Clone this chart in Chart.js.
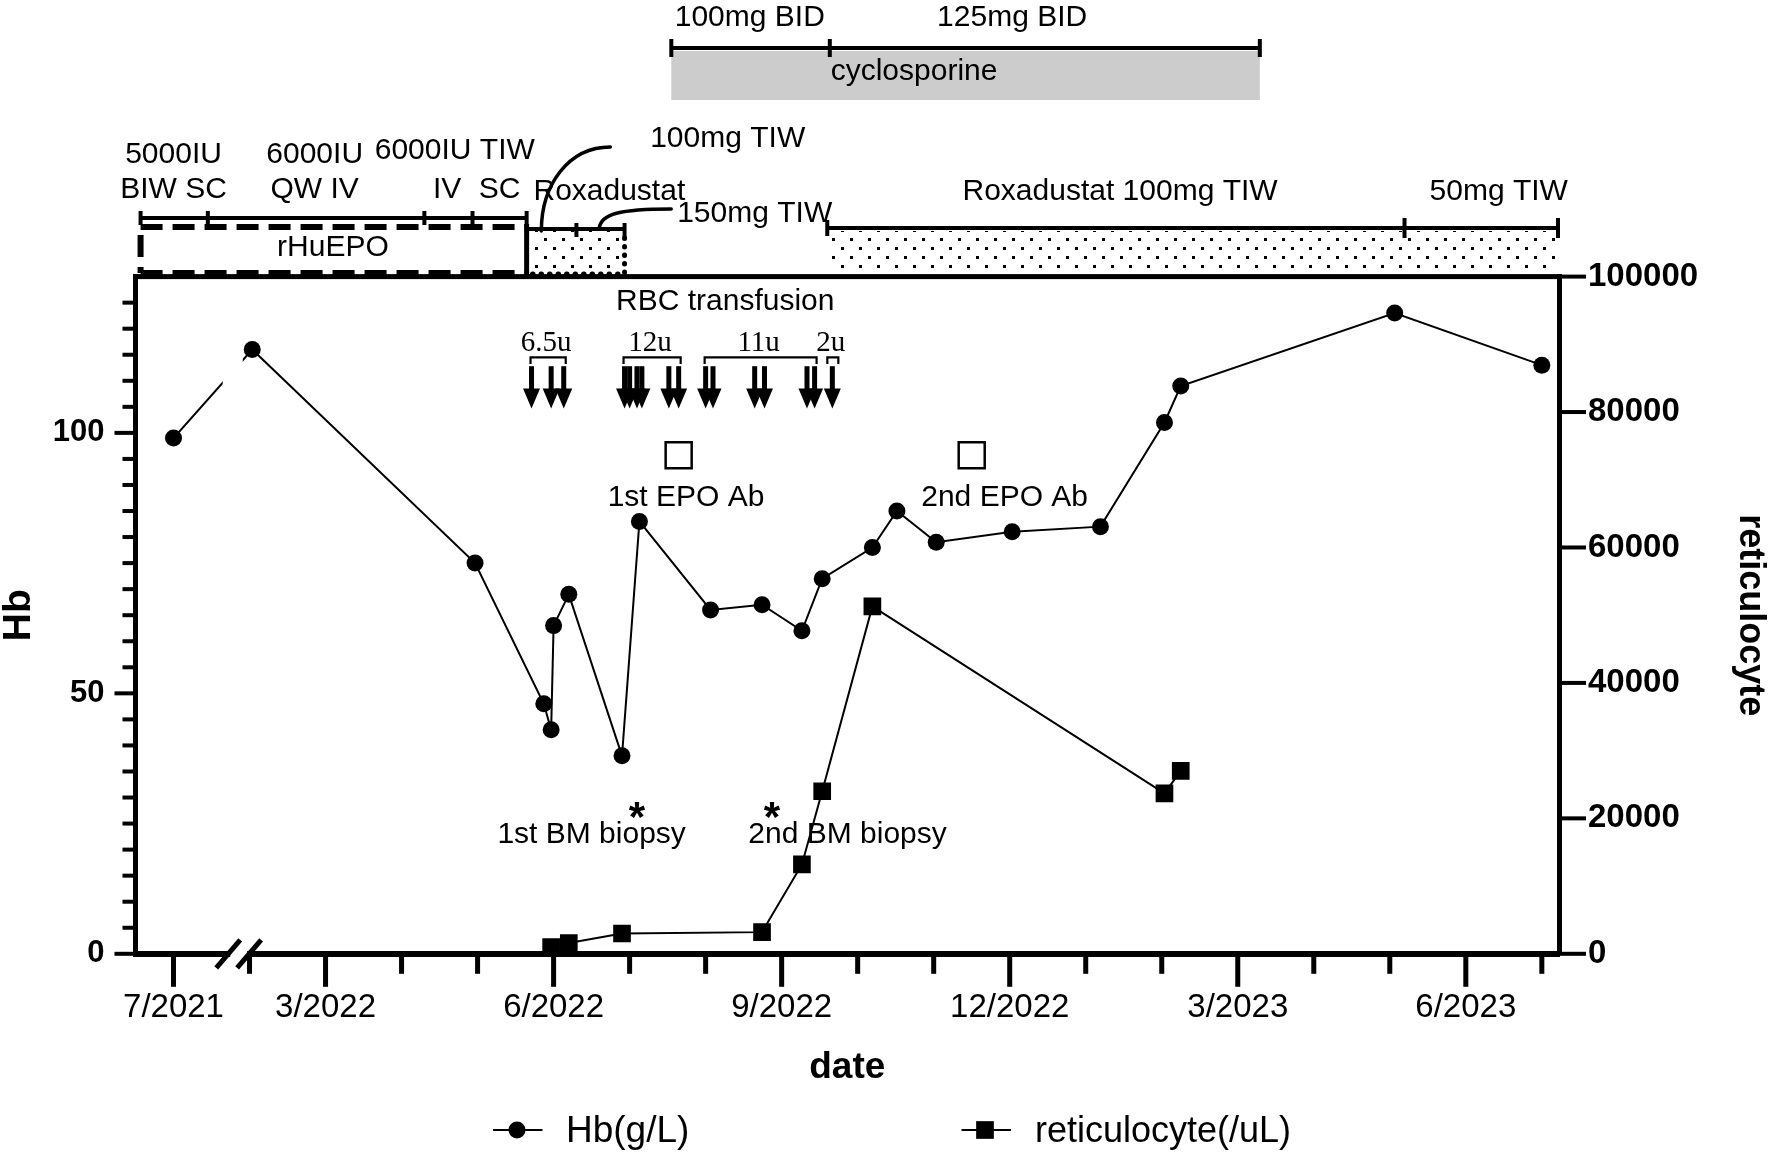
<!DOCTYPE html>
<html>
<head>
<meta charset="utf-8">
<script src="https://cdn.jsdelivr.net/npm/chart.js@4.4.1/dist/chart.umd.min.js"></script>
<style>
  html, body { margin: 0; padding: 0; background: #fff; }
  #wrap { width: 1770px; height: 1153px; }
</style>
</head>
<body>
<div id="wrap"><canvas id="c" width="1770" height="1153"></canvas></div>
<script>
// ================= DATA =================
const hbDates = ['2021-07-01','2022-02-02','2022-04-30','2022-05-28','2022-05-31','2022-06-01','2022-06-07',
  '2022-06-28','2022-07-05','2022-08-03','2022-08-24','2022-09-09','2022-09-17','2022-10-07','2022-10-17',
  '2022-11-02','2022-12-02','2023-01-07','2023-02-02','2023-02-08','2023-05-03','2023-07-01'];
const hbValues = [99,116,75,48,43,63,69,38,83,66,67,62,72,78,85,79,81,82,102,109,123,113];

const reticDates = ['2022-05-31','2022-06-07','2022-06-28','2022-08-24','2022-09-09','2022-09-17','2022-10-07','2023-02-02','2023-02-08'];
const reticValues = [1000,1600,3000,3200,13200,24000,51300,23700,27000];

const xTickDates = ['2021-07-01','2022-03-01','2022-06-01','2022-09-01','2022-12-01','2023-03-01','2023-06-01'];
const xTickLabels = ['7/2021','3/2022','6/2022','9/2022','12/2022','3/2023','6/2023'];
const xMinorTickDates = ['2022-02-01','2022-04-01','2022-05-01','2022-07-01','2022-08-01','2022-10-01','2022-11-01',
  '2023-01-01','2023-02-01','2023-04-01','2023-05-01','2023-07-01'];
const hbTickLabels = [0, 50, 100];
const reticTickLabels = [0, 20000, 40000, 60000, 80000, 100000];

const transfusionLabels = ['6.5u','12u','11u','2u'];
const transfusionDates = [
  ['2022-05-23','2022-05-31','2022-06-05'],
  ['2022-06-29','2022-07-01','2022-07-04','2022-07-06','2022-07-17','2022-07-21'],
  ['2022-08-01','2022-08-04','2022-08-21','2022-08-25','2022-09-11','2022-09-14'],
  ['2022-09-21']
];
const epoAbDates = ['2022-07-21','2022-11-16'];
const epoAbLabels = ['1st EPO Ab','2nd EPO Ab'];
const biopsyDates = ['2022-07-04','2022-08-28'];
const biopsyLabels = ['1st BM biopsy','2nd BM biopsy'];

const rhuepoDates = ['2021-06-18','2021-07-15','2022-04-10','2022-04-29','2022-05-21'];
const roxa1Dates = ['2022-05-21','2022-06-10','2022-06-29'];
const roxa2Dates = ['2022-09-19','2023-05-07','2023-07-08'];
const cycloDates = ['2022-07-18','2022-09-20','2023-03-10'];
const axisStartDate = '2021-06-16';
const axisEndDate = '2023-07-08';

// ================= HELPERS =================
// axis unit = months, with the Aug 2021 - Jan 2022 interval removed (axis break)
function toM(s) {
  const [yy, mo, d] = s.split('-').map(Number);
  const dim = new Date(yy, mo, 0).getDate();
  const frac = (d - 1) / dim;
  if (yy === 2021) return (mo - 7) + frac;
  return 1 + (yy - 2022) * 12 + (mo - 2) + frac;
}
const W = 1770, H = 1153;
const PLOT = { left: 135.5, right: 1559, top: 276.6, bottom: 953.8 };
const FONT = "'Liberation Sans', Arial, Helvetica, sans-serif";
const SERIF = "'Liberation Serif', 'Times New Roman', serif";
const HB_R = 8.5, RET_R = 12.5;
const EPO_LEVEL = 95.7;
const majorM = xTickDates.map(toM);
const allMonthTicks = xTickDates.concat(xMinorTickDates).map(toM).sort((a, b) => a - b);
const hbTicks = []; for (let v = 0; v <= 130; v += 5) hbTicks.push(v);
const isMajorM = v => majorM.some(m => Math.abs(m - v) < 1e-6);

Chart.defaults.font.family = FONT;
Chart.defaults.color = '#000';

// dot pattern for roxadustat boxes
const pc = document.createElement('canvas');
pc.width = 18; pc.height = 18;
const pcx = pc.getContext('2d');
pcx.fillStyle = '#000';
pcx.fillRect(0, 0, 3, 3);
pcx.fillRect(9, 9, 3, 3);

const annot = {
  id: 'annot',
  beforeDatasetDraw(chart, args) {
    if (args.index !== 0) return;
    const { ctx, chartArea: ca, scales: { x } } = chart;
    const p1 = chart.getDatasetMeta(0).data[1];
    const gx0 = x.getPixelForValue(0.70) - 4;
    const gx1 = p1.x - HB_R - 1;
    ctx.save();
    ctx.beginPath();
    ctx.rect(0, 0, chart.width, chart.height);
    ctx.rect(gx0, ca.top, gx1 - gx0, ca.bottom - ca.top);
    ctx.clip('evenodd');
  },
  afterDatasetDraw(chart, args) {
    if (args.index === 0) chart.ctx.restore();
  },
  afterDraw(chart) {
    const { ctx, chartArea: ca, scales: { x, y, y1 } } = chart;
    const X = d => x.getPixelForValue(typeof d === 'string' ? toM(d) : d);
    const Y = v => y.getPixelForValue(v);
    const txt = (s, xx, yy, font, align, base) => {
      ctx.font = font; ctx.textAlign = align || 'center'; ctx.textBaseline = base || 'middle';
      ctx.fillText(s, xx, yy);
    };
    const line = (x0, y0, x1, y1_, lw) => {
      ctx.lineWidth = lw; ctx.beginPath(); ctx.moveTo(x0, y0); ctx.lineTo(x1, y1_); ctx.stroke();
    };
    const F30 = '30px ' + FONT;
    ctx.save();
    ctx.fillStyle = '#000'; ctx.strokeStyle = '#000'; ctx.lineCap = 'butt';

    // frame top
    ctx.fillRect(ca.left - 2.5, ca.top - 2.5, ca.right - ca.left + 5, 5);
    // left ticks
    y.ticks.forEach(t => {
      if (t.value >= 130) return;
      const len = hbTickLabels.includes(t.value) ? 21 : 13;
      ctx.fillRect(ca.left - len, Y(t.value) - 2, len, 4);
    });
    // right ticks
    y1.ticks.forEach(t => { ctx.fillRect(ca.right, y1.getPixelForValue(t.value) - 2, 27, 4); });
    // bottom ticks
    x.ticks.forEach(t => {
      const len = isMajorM(t.value) ? 33 : 20;
      ctx.fillRect(x.getPixelForValue(t.value) - 2.5, ca.bottom, 5, len);
    });
    // axis break
    const b1 = X(0.72), b2 = X(0.995);
    ctx.fillStyle = '#fff';
    ctx.fillRect(b1 + 2, ca.bottom - 4, b2 - b1 - 4, 8);
    ctx.fillStyle = '#000';
    [b1, b2].forEach(bx => line(bx - 12, ca.bottom + 14, bx + 12, ca.bottom - 14, 5));

    // ---------- cyclosporine ----------
    const cx = cycloDates.map(X);
    ctx.fillStyle = '#cccccc';
    ctx.fillRect(cx[0], 51, cx[2] - cx[0], 49);
    ctx.fillStyle = '#000';
    line(cx[0], 48, cx[2], 48, 4);
    cx.forEach(v => line(v, 39, v, 57, 4));
    txt('100mg BID', X('2022-08-19'), 17.5, F30);
    txt('125mg BID', X('2022-12-02'), 17.5, F30);
    txt('cyclosporine', X('2022-10-24'), 71.5, F30);

    // ---------- rHuEPO ----------
    const rx = rhuepoDates.map(X);
    line(rx[0], 218, rx[4], 218, 4);
    rx.forEach(v => line(v, 211, v, 225, 4));
    ctx.setLineDash([22, 10]);
    ctx.lineWidth = 6;
    ctx.beginPath();
    ctx.moveTo(rx[0], 227); ctx.lineTo(rx[4], 227);
    ctx.moveTo(rx[0], 273); ctx.lineTo(rx[4], 273);
    ctx.moveTo(rx[0], 235); ctx.lineTo(rx[0], 273);
    ctx.stroke();
    ctx.setLineDash([]);
    txt('rHuEPO', X('2022-03-04'), 248, F30);
    txt('5000IU', X('2021-07-01'), 155, F30);
    txt('BIW SC', X('2021-07-01'), 190, F30);
    txt('6000IU', X('2022-02-25'), 155, F30);
    txt('QW IV', X('2022-02-25'), 190, F30);
    txt('6000IU TIW', X('2022-04-22'), 151, F30);
    txt('IV', X('2022-04-19'), 190, F30);
    txt('SC', X('2022-05-10'), 190, F30);

    // ---------- roxadustat ----------
    const pat = ctx.createPattern(pc, 'repeat');
    if (pat.setTransform) pat.setTransform(new DOMMatrix().translate(4, 4));
    const r1 = roxa1Dates.map(X);
    const r2 = roxa2Dates.map(X);
    ctx.fillStyle = pat;
    ctx.fillRect(r1[0], 231, r1[2] - r1[0], 43);
    ctx.fillRect(r2[0], 231, r2[2] - r2[0], 43);
    ctx.fillStyle = '#000';
    line(r1[0], 229, r1[2], 229, 4);
    line(r1[1], 223, r1[1], 237, 4);
    line(r1[2], 223, r1[2], 238, 4);
    line(r1[0], 224, r1[0], 276, 5);
    ctx.setLineDash([0.5, 8]); ctx.lineCap = 'round';
    ctx.lineWidth = 5;
    ctx.beginPath();
    ctx.moveTo(r1[2], 238); ctx.lineTo(r1[2], 274); ctx.lineTo(r1[0], 274);
    ctx.stroke();
    ctx.setLineDash([]); ctx.lineCap = 'butt';
    line(r2[0], 228, r2[2], 228, 4);
    line(r2[0], 220, r2[0], 236, 4);
    line(r2[1], 218, r2[1], 238, 4);
    line(r2[2] - 1, 218, r2[2] - 1, 238, 4);
    txt('Roxadustat', X('2022-06-23'), 192, F30);
    txt('100mg TIW', X('2022-08-10'), 139, F30);
    txt('150mg TIW', X('2022-08-21'), 213.5, F30);
    txt('Roxadustat 100mg TIW', X('2023-01-15'), 192, F30);
    txt('50mg TIW', X('2023-06-14'), 192, F30);
    // pointer curves
    ctx.lineWidth = 3.5; ctx.lineCap = 'round';
    let px = X('2022-05-27');
    ctx.beginPath(); ctx.moveTo(px + 69, 147);
    ctx.bezierCurveTo(px + 27, 147, px, 185, px, 231); ctx.stroke();
    px = X('2022-06-19');
    ctx.beginPath(); ctx.moveTo(px + 72, 209);
    ctx.bezierCurveTo(px + 20, 209, px + 2, 214, px, 228); ctx.stroke();
    ctx.lineCap = 'butt';

    // ---------- RBC transfusion ----------
    txt('RBC transfusion', X('2022-08-09'), Y(125.2), F30);
    transfusionDates.forEach((g, gi) => {
      const xs = g.map(X);
      let a = Math.min(...xs), b = Math.max(...xs);
      if (g.length === 1) { a -= 5; b += 6; } else { a -= 1; b += 2; }
      const yb = Y(114.5), ye = Y(113.2);
      ctx.lineWidth = 2.2;
      ctx.beginPath(); ctx.moveTo(a, ye); ctx.lineTo(a, yb); ctx.lineTo(b, yb); ctx.lineTo(b, ye); ctx.stroke();
      txt(transfusionLabels[gi], (a + b) / 2 - 2, Y(117.1), '29px ' + SERIF);
      xs.forEach(xx => {
        const yt = Y(112.8), yTip = Y(104.7), yHead = yTip - 20;
        ctx.fillRect(xx - 2.5, yt, 5, yHead - yt + 1);
        ctx.beginPath(); ctx.moveTo(xx - 8.5, yHead); ctx.lineTo(xx + 8.5, yHead); ctx.lineTo(xx, yTip);
        ctx.closePath(); ctx.fill();
      });
    });

    // ---------- EPO Ab & biopsy labels ----------
    txt(epoAbLabels[0], X('2022-07-24'), Y(87.5), F30);
    txt(epoAbLabels[1], X('2022-11-29'), Y(87.5), F30);
    biopsyDates.forEach(d => txt('*', X(d), Y(27.3) + 19, 'bold 42px ' + FONT, 'center', 'alphabetic'));
    txt(biopsyLabels[0], X('2022-06-16'), Y(22.9), F30);
    txt(biopsyLabels[1], X('2022-09-27'), Y(22.9), F30);

    // ---------- legend ----------
    const ly = 1130;
    line(493, ly, 542.5, ly, 2);
    ctx.beginPath(); ctx.arc(517, ly, HB_R, 0, Math.PI * 2); ctx.fill();
    txt(chart.data.datasets[0].label, 566, ly + 12, '37px ' + FONT, 'left', 'alphabetic');
    line(961.5, ly, 1011, ly, 2);
    const s = RET_R * Math.SQRT1_2;
    ctx.fillRect(985 - s, ly - s, 2 * s, 2 * s);
    txt(chart.data.datasets[1].label, 1035, ly + 12, '36px ' + FONT, 'left', 'alphabetic');

    ctx.restore();
  }
};

new Chart(document.getElementById('c'), {
  type: 'line',
  data: {
    datasets: [
      {
        label: 'Hb(g/L)', yAxisID: 'y',
        data: hbDates.map((d, i) => ({ x: toM(d), y: hbValues[i] })),
        borderColor: '#000', borderWidth: 2, tension: 0, fill: false,
        pointStyle: 'circle', pointRadius: HB_R, pointHoverRadius: HB_R,
        pointBackgroundColor: '#000', pointBorderColor: '#000', pointBorderWidth: 0
      },
      {
        label: 'reticulocyte(/uL)', yAxisID: 'y1',
        data: reticDates.map((d, i) => ({ x: toM(d), y: reticValues[i] })),
        borderColor: '#000', borderWidth: 2, tension: 0, fill: false,
        pointStyle: 'rect', pointRadius: RET_R, pointHoverRadius: RET_R,
        pointBackgroundColor: '#000', pointBorderColor: '#000', pointBorderWidth: 0
      },
      {
        label: 'EPO Ab', yAxisID: 'y', showLine: false,
        data: epoAbDates.map(d => ({ x: toM(d), y: EPO_LEVEL })),
        pointStyle: 'rect', pointRadius: 18.4, pointHoverRadius: 18.4,
        pointBackgroundColor: 'rgba(0,0,0,0)', pointBorderColor: '#000', pointBorderWidth: 2.5
      }
    ]
  },
  options: {
    responsive: false, animation: false, devicePixelRatio: 1, events: [],
    layout: { padding: { top: PLOT.top, left: 0, right: 0, bottom: 0 } },
    plugins: { legend: { display: false }, tooltip: { enabled: false } },
    scales: {
      x: {
        type: 'linear', position: 'bottom',
        min: toM(axisStartDate), max: toM(axisEndDate),
        afterBuildTicks: s => { s.ticks = allMonthTicks.map(v => ({ value: v })); },
        afterFit: s => { s.height = H - PLOT.bottom; },
        grid: { display: false, drawTicks: false },
        border: { display: true, color: '#000', width: 6 },
        ticks: {
          autoSkip: false, maxRotation: 0, minRotation: 0, padding: 34, color: '#000',
          font: { family: FONT, size: 33 },
          callback: v => { const i = majorM.findIndex(m => Math.abs(m - v) < 1e-6); return i >= 0 ? xTickLabels[i] : ''; }
        },
        title: { display: true, text: 'date', color: '#000',
          font: { family: FONT, size: 37, weight: 'bold', lineHeight: 1 }, padding: { top: 0, bottom: 67 } }
      },
      y: {
        position: 'left', min: 0, max: 130,
        afterBuildTicks: s => { s.ticks = hbTicks.map(v => ({ value: v })); },
        afterFit: s => { s.width = PLOT.left; },
        grid: { display: false, drawTicks: false },
        border: { display: true, color: '#000', width: 5 },
        ticks: { autoSkip: false, padding: 31, color: '#000', font: { family: FONT, size: 31, weight: 'bold' },
          callback: v => hbTickLabels.includes(v) ? String(v) : '' },
        title: { display: true, text: 'Hb', color: '#000',
          font: { family: FONT, size: 39, weight: 'bold', lineHeight: 1 }, padding: { top: 0, bottom: 0 } }
      },
      y1: {
        position: 'right', min: 0, max: 100000,
        afterBuildTicks: s => { s.ticks = reticTickLabels.map(v => ({ value: v })); },
        afterFit: s => { s.width = W - PLOT.right; },
        grid: { display: false, drawTicks: false },
        border: { display: true, color: '#000', width: 5 },
        ticks: { autoSkip: false, padding: 29, color: '#000', font: { family: FONT, size: 33, weight: 'bold' },
          callback: v => String(v) },
        title: { display: true, text: 'reticulocyte', color: '#000',
          font: { family: FONT, size: 36, weight: 'bold', lineHeight: 1 }, padding: { top: 2, bottom: 0 } }
      }
    }
  },
  plugins: [annot]
});
</script>
</body>
</html>
